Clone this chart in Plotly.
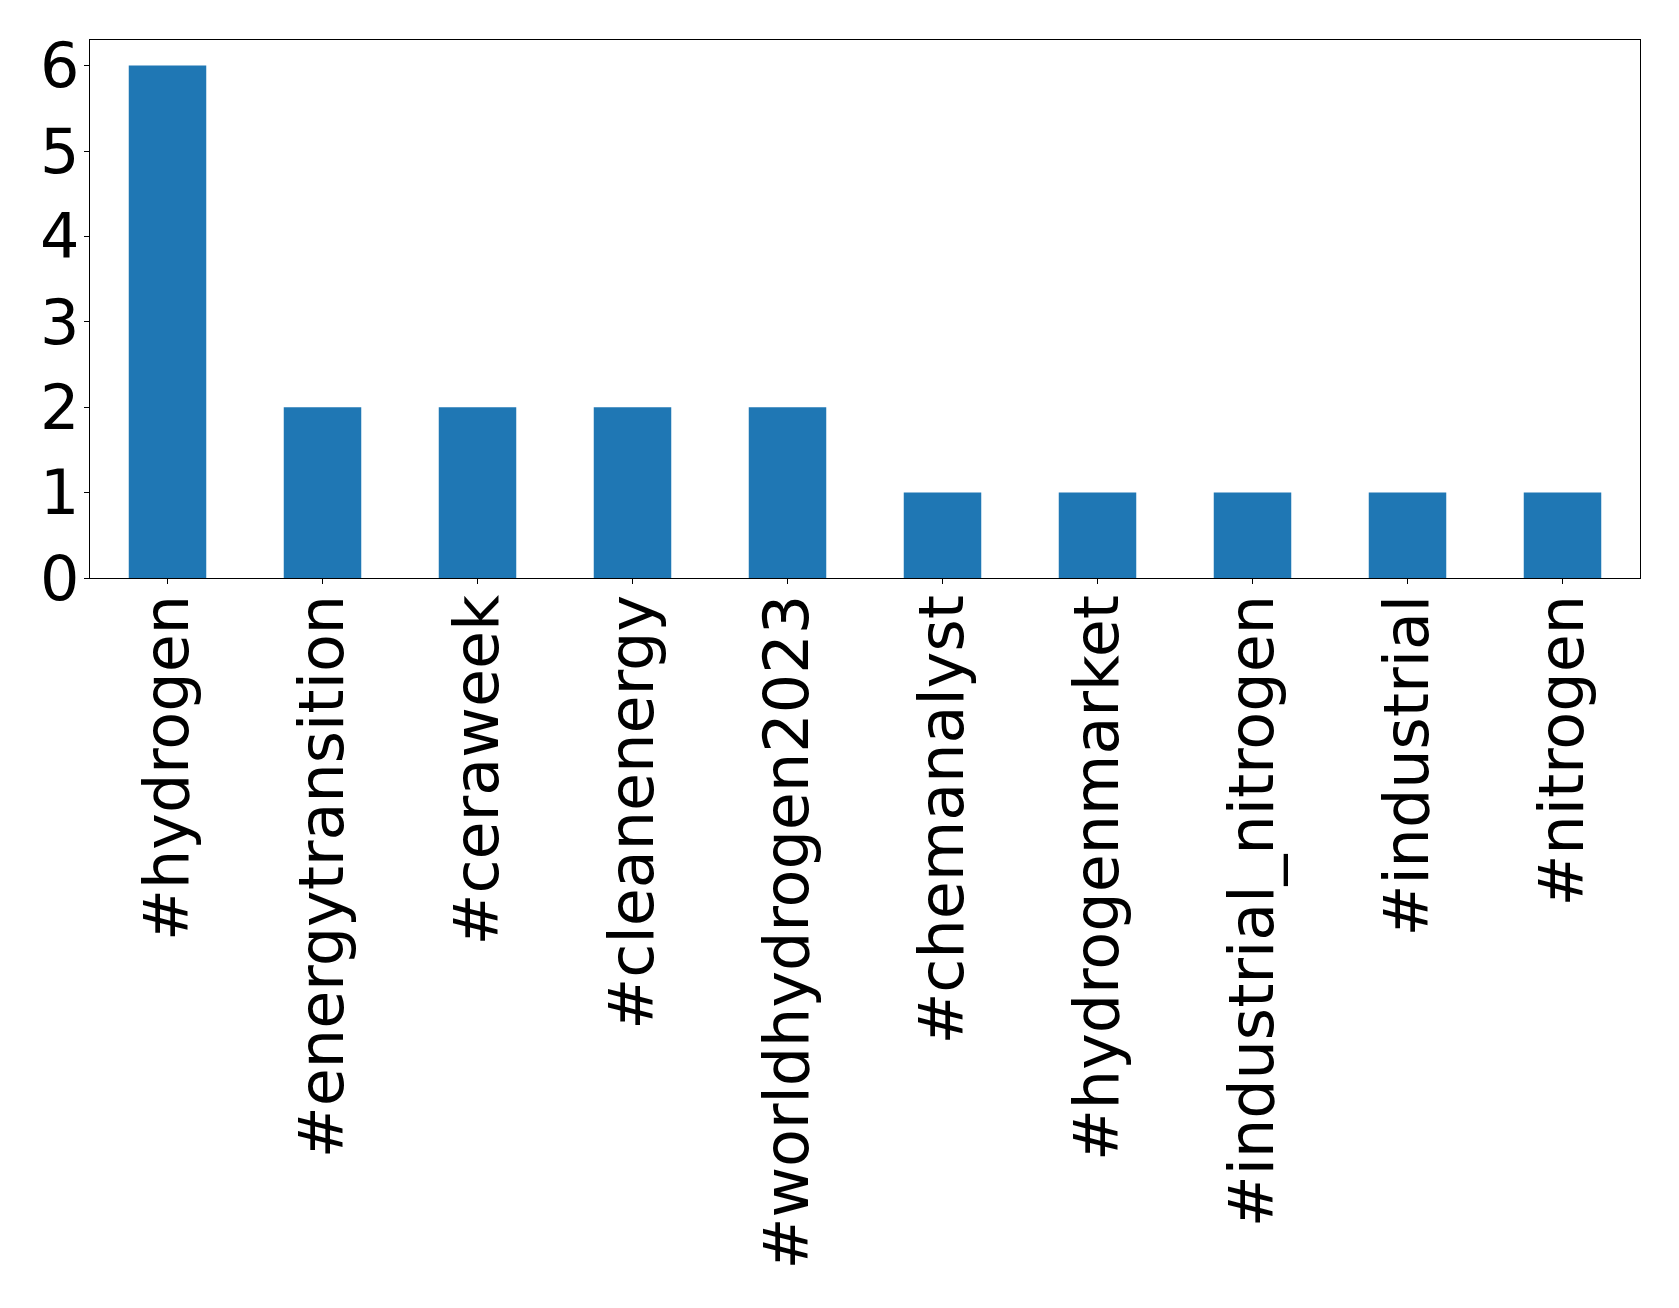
import plotly.graph_objects as go

categories = ["#hydrogen", "#energytransition", "#ceraweek", "#cleanenergy",
              "#worldhydrogen2023", "#chemanalyst", "#hydrogenmarket",
              "#industrial_nitrogen", "#industrial", "#nitrogen"]
counts = [6, 2, 2, 2, 2, 1, 1, 1, 1, 1]
y_ticks = [0, 1, 2, 3, 4, 5, 6]

fig = go.Figure(go.Bar(x=categories, y=counts, marker_color="#1f77b4",
                       marker_line_width=0))

font = dict(family="DejaVu Sans", size=62, color="black")
fig.update_layout(
    width=1671, height=1300,
    margin=dict(l=82, r=39, t=32, b=730, autoexpand=False),
    plot_bgcolor="white", paper_bgcolor="white",
    bargap=0.5, showlegend=False,
    font=font,
)
fig.update_xaxes(type="category", range=[-0.5, 9.5], tickangle=-90,
                 showline=True, mirror=True, linecolor="black", linewidth=1.2,
                 ticks="outside", ticklen=5, tickwidth=1.1, tickcolor="black",
                 showgrid=False, zeroline=False, tickfont=font,
                 ticklabelstandoff=-14)
fig.update_yaxes(range=[0, 6.3], tickvals=y_ticks,
                 showline=True, mirror=True, linecolor="black", linewidth=1.2,
                 ticks="outside", ticklen=5, tickwidth=1.1, tickcolor="black",
                 showgrid=False, zeroline=False, tickfont=font,
                 ticklabelstandoff=-8)

fig.write_html("out.html")
